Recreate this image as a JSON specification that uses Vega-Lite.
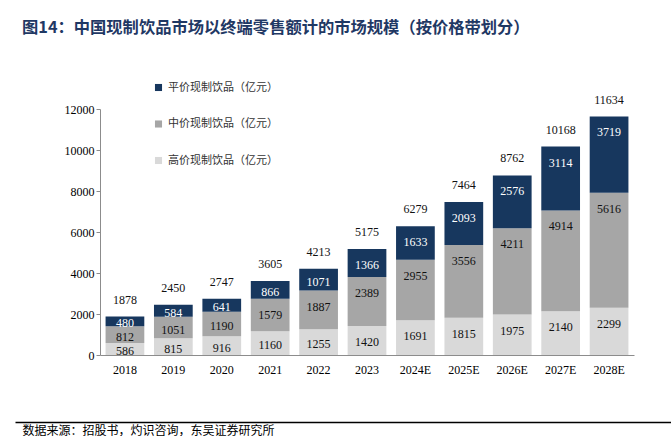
{
  "$schema": "https://vega.github.io/schema/vega-lite/v6.json",
  "padding": {"left": 15, "top": 19, "right": 0, "bottom": 0},
  "background": "white",
  "title": {"text": "图14：中国现制饮品市场以终端零售额计的市场规模（按价格带划分）", "anchor": "start", "frame": "bounds", "font": "Noto Sans CJK SC", "fontSize": 16.3, "fontWeight": "bold", "color": "#1F3864", "offset": 46, "dx": 7},
  "config": {"view": {"stroke": null}},
  "width": 534,
  "height": 246,
  "data": {"values": [
    {"year": "2018", "tier": "高价现制饮品（亿元）", "value": 586},
    {"year": "2018", "tier": "中价现制饮品（亿元）", "value": 812},
    {"year": "2018", "tier": "平价现制饮品（亿元）", "value": 480},
    {"year": "2019", "tier": "高价现制饮品（亿元）", "value": 815},
    {"year": "2019", "tier": "中价现制饮品（亿元）", "value": 1051},
    {"year": "2019", "tier": "平价现制饮品（亿元）", "value": 584},
    {"year": "2020", "tier": "高价现制饮品（亿元）", "value": 916},
    {"year": "2020", "tier": "中价现制饮品（亿元）", "value": 1190},
    {"year": "2020", "tier": "平价现制饮品（亿元）", "value": 641},
    {"year": "2021", "tier": "高价现制饮品（亿元）", "value": 1160},
    {"year": "2021", "tier": "中价现制饮品（亿元）", "value": 1579},
    {"year": "2021", "tier": "平价现制饮品（亿元）", "value": 866},
    {"year": "2022", "tier": "高价现制饮品（亿元）", "value": 1255},
    {"year": "2022", "tier": "中价现制饮品（亿元）", "value": 1887},
    {"year": "2022", "tier": "平价现制饮品（亿元）", "value": 1071},
    {"year": "2023", "tier": "高价现制饮品（亿元）", "value": 1420},
    {"year": "2023", "tier": "中价现制饮品（亿元）", "value": 2389},
    {"year": "2023", "tier": "平价现制饮品（亿元）", "value": 1366},
    {"year": "2024E", "tier": "高价现制饮品（亿元）", "value": 1691},
    {"year": "2024E", "tier": "中价现制饮品（亿元）", "value": 2955},
    {"year": "2024E", "tier": "平价现制饮品（亿元）", "value": 1633},
    {"year": "2025E", "tier": "高价现制饮品（亿元）", "value": 1815},
    {"year": "2025E", "tier": "中价现制饮品（亿元）", "value": 3556},
    {"year": "2025E", "tier": "平价现制饮品（亿元）", "value": 2093},
    {"year": "2026E", "tier": "高价现制饮品（亿元）", "value": 1975},
    {"year": "2026E", "tier": "中价现制饮品（亿元）", "value": 4211},
    {"year": "2026E", "tier": "平价现制饮品（亿元）", "value": 2576},
    {"year": "2027E", "tier": "高价现制饮品（亿元）", "value": 2140},
    {"year": "2027E", "tier": "中价现制饮品（亿元）", "value": 4914},
    {"year": "2027E", "tier": "平价现制饮品（亿元）", "value": 3114},
    {"year": "2028E", "tier": "高价现制饮品（亿元）", "value": 2299},
    {"year": "2028E", "tier": "中价现制饮品（亿元）", "value": 5616},
    {"year": "2028E", "tier": "平价现制饮品（亿元）", "value": 3719}
  ]},
  "transform": [
    {"window": [{"op": "row_number", "as": "rk"}], "groupby": ["year"]},
    {"stack": "value", "groupby": ["year"], "sort": [{"field": "rk", "order": "ascending"}], "as": ["v0", "v1"]},
    {"calculate": "max(datum.v1 - 780, (datum.v0 + datum.v1) / 2 - 100)", "as": "labelPos"}
  ],
  "resolve": {"scale": {"x": "independent"}, "axis": {"x": "independent"}},
  "layer": [
    {
      "layer": [
        {
          "mark": {"type": "bar"},
          "encoding": {
            "y": {"field": "v1", "type": "quantitative", "title": null,
              "scale": {"domain": [0, 12000], "nice": false},
              "axis": {"values": [0, 2000, 4000, 6000, 8000, 10000, 12000], "format": "d", "grid": false, "domainColor": "#8c8c8c", "tickColor": "#8c8c8c", "tickSize": 4, "labelPadding": 2, "labelFont": "Liberation Serif", "labelFontSize": 12, "labelColor": "#000"}},
            "y2": {"field": "v0"},
            "color": {"field": "tier", "type": "nominal",
              "scale": {"domain": ["平价现制饮品（亿元）", "中价现制饮品（亿元）", "高价现制饮品（亿元）"], "range": ["#17375E", "#A6A6A6", "#D9D9D9"]},
              "legend": {"orient": "none", "legendX": 53, "legendY": -27, "title": null, "symbolType": "square", "symbolSize": 50, "symbolStrokeWidth": 0, "labelFont": "Noto Sans CJK SC", "labelFontSize": 11, "labelColor": "#333", "rowPadding": 24.5, "labelOffset": 4}}
          }
        },
        {
          "mark": {"type": "text", "font": "Liberation Serif", "fontSize": 12, "baseline": "middle"},
          "encoding": {
            "y": {"field": "labelPos", "type": "quantitative"},
            "text": {"field": "value", "type": "quantitative"},
            "color": {"condition": {"test": "datum.tier === '平价现制饮品（亿元）'", "value": "#ffffff"}, "value": "#111111"}
          }
        },
        {
          "mark": {"type": "text", "font": "Liberation Serif", "fontSize": 12, "baseline": "middle", "dy": -17, "color": "#111111"},
          "encoding": {
            "y": {"aggregate": "sum", "field": "value", "type": "quantitative"},
            "text": {"aggregate": "sum", "field": "value", "type": "quantitative"}
          }
        }
      ],
      "encoding": {
        "x": {"field": "year", "type": "nominal", "sort": null, "title": null,
          "scale": {"paddingInner": 0.2, "paddingOuter": 0.115},
          "axis": {"labelAngle": 0, "ticks": false, "domainColor": "#8c8c8c", "labelPadding": 9, "labelFont": "Liberation Serif", "labelFontSize": 12, "labelColor": "#000"}}
      }
    },
    {
      "mark": {"type": "text"},
      "encoding": {
        "text": {"value": ""},
        "x": {"datum": 0, "type": "quantitative",
          "scale": {"domain": [0, 1], "range": [-85, 571]},
          "axis": {"orient": "bottom", "offset": 67, "domain": true, "domainColor": "#000000", "domainWidth": 1.5, "ticks": false, "labels": false, "grid": false,
            "title": "数据来源：招股书，灼识咨询，东吴证券研究所", "titleAnchor": "start", "titleAlign": "left", "titleBaseline": "top", "titlePadding": 3, "titleX": -78, "titleFont": "Noto Sans CJK SC", "titleFontSize": 12, "titleFontWeight": "normal", "titleColor": "#000000"}}
      }
    }
  ]
}
